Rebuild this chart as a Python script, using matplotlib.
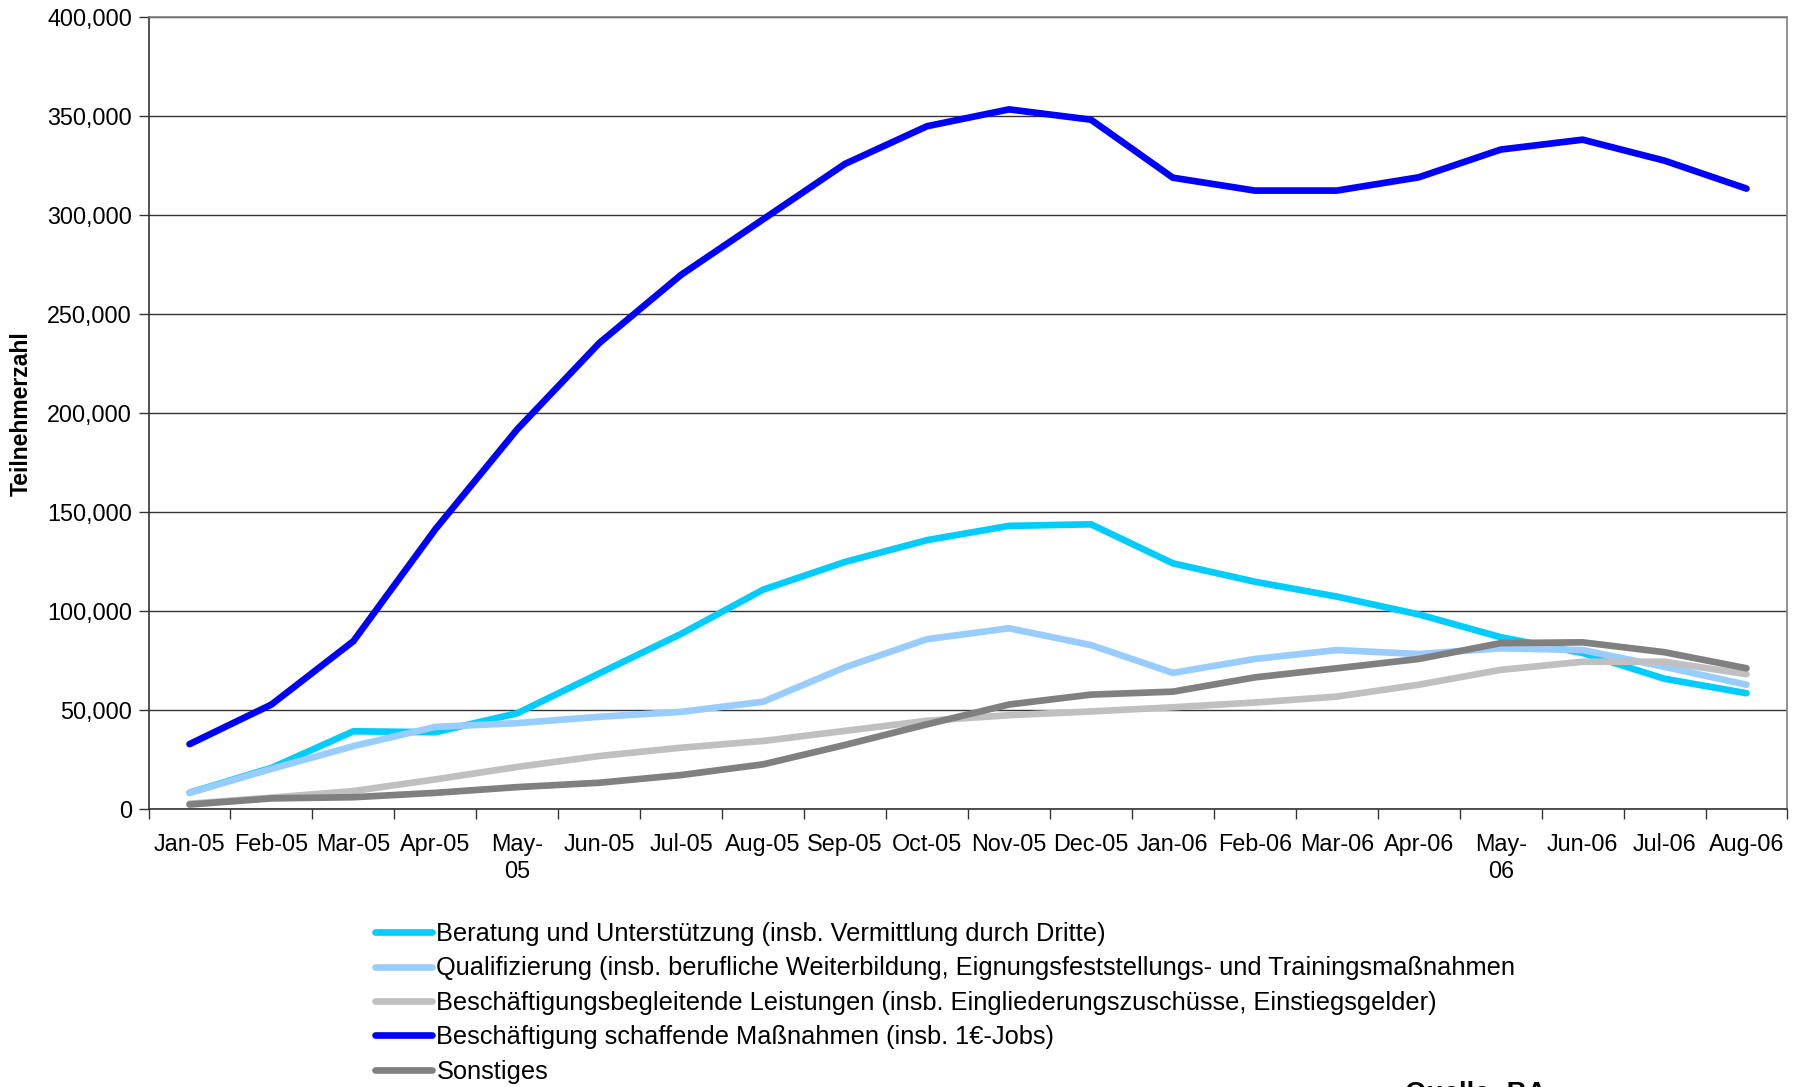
import numpy as np
import matplotlib
matplotlib.use('Agg')
import matplotlib.pyplot as plt
from matplotlib.ticker import FuncFormatter, FixedLocator

plt.rcParams['font.family'] = ['Liberation Sans', 'DejaVu Sans']

months = ['Jan-05', 'Feb-05', 'Mar-05', 'Apr-05', 'May-\n05', 'Jun-05', 'Jul-05',
          'Aug-05', 'Sep-05', 'Oct-05', 'Nov-05', 'Dec-05', 'Jan-06', 'Feb-06',
          'Mar-06', 'Apr-06', 'May-\n06', 'Jun-06', 'Jul-06', 'Aug-06']

# participants, in thousands
beratung = [8.5, 21, 39.5, 39, 48.6, 68.7, 88.7, 111, 125, 136,
            143.2, 144, 124.3, 115, 107.5, 98.5, 87, 79, 66, 58.7]
qualifizierung = [8.4, 20.5, 32, 41.7, 43.6, 46.8, 49.3, 54.4, 71.8, 86,
                  91.5, 83, 69, 76, 80.5, 78.5, 81.4, 80.5, 72, 63]
begleitend = [2.9, 6, 9.3, 15.2, 21.5, 27, 31.2, 34.6, 39.7, 44.8,
              47.6, 49.5, 51.6, 54, 57, 63, 70.5, 74.6, 74.6, 68.3]
schaffend = [33, 53, 85, 141.5, 192, 235.5, 270, 298, 326, 345,
             353.5, 348.3, 319, 312.5, 312.5, 319.2, 333.2, 338.2, 327.6, 313.5]
sonstiges = [2.5, 5.6, 6.2, 8.4, 11.3, 13.5, 17.4, 22.8, 32.6, 43,
             53, 58, 59.5, 66.7, 71.3, 76, 84, 84.4, 79.4, 71.3]

labels = ['Beratung und Unterstützung (insb. Vermittlung durch Dritte)',
          'Qualifizierung (insb. berufliche Weiterbildung, Eignungsfeststellungs- und Trainingsmaßnahmen',
          'Beschäftigungsbegleitende Leistungen (insb. Eingliederungszuschüsse, Einstiegsgelder)',
          'Beschäftigung schaffende Maßnahmen (insb. 1€-Jobs)',
          'Sonstiges']
colors = ['#00CCFF', '#99CCFF', '#C0C0C0', '#0000FF', '#808080']

fig = plt.figure(figsize=(18.05, 10.87), dpi=100)
ax = fig.add_axes([0.0823, 0.2553, 0.9080, 0.7288])

x = np.arange(len(months))
for series, lab, col in zip([beratung, qualifizierung, begleitend, schaffend, sonstiges], labels, colors):
    ax.plot(x, np.array(series) * 1000, color=col, lw=4.8, label=lab,
            solid_capstyle='round', solid_joinstyle='miter')

ax.set_xlim(-0.5, len(months) - 0.5)
ax.set_ylim(0, 400000)
ax.set_yticks(np.arange(0, 400001, 50000))
ax.yaxis.set_major_formatter(FuncFormatter(lambda v, p: f'{int(v):,}'))
ax.grid(axis='y', color='#333333', lw=1)
ax.set_axisbelow(True)

ax.set_xticks(x)
ax.set_xticklabels(months)
ax.xaxis.set_minor_locator(FixedLocator(np.arange(-0.5, len(months), 1)))
ax.tick_params(axis='x', which='major', length=0, pad=17, labelsize=16.8)
ax.tick_params(axis='x', which='minor', length=7, width=1, color='#333333')
ax.tick_params(axis='y', length=7, width=1, color='#333333', pad=5, labelsize=16.8)

ax.spines['left'].set_color('#333333')
ax.spines['bottom'].set_color('#333333')
ax.spines['top'].set_color('#808080')
ax.spines['right'].set_color('#808080')
for s in ax.spines.values():
    s.set_linewidth(1.2)

ax.set_ylabel('Teilnehmerzahl', fontsize=16.5, fontweight='bold', labelpad=10)

fig.legend(loc='upper left', bbox_to_anchor=(0.2078, 0.1518), frameon=False,
           fontsize=18.3, handlelength=2.25, handletextpad=0.16,
           labelspacing=0.41, borderaxespad=0, borderpad=0)

# source note, cut off by the bottom edge as in the original
fig.text(1405 / 1805, 1 - 1081 / 1087, 'Quelle: BA', fontsize=20, fontweight='bold',
         va='top', ha='left')

fig.savefig('out.png', dpi=100)
